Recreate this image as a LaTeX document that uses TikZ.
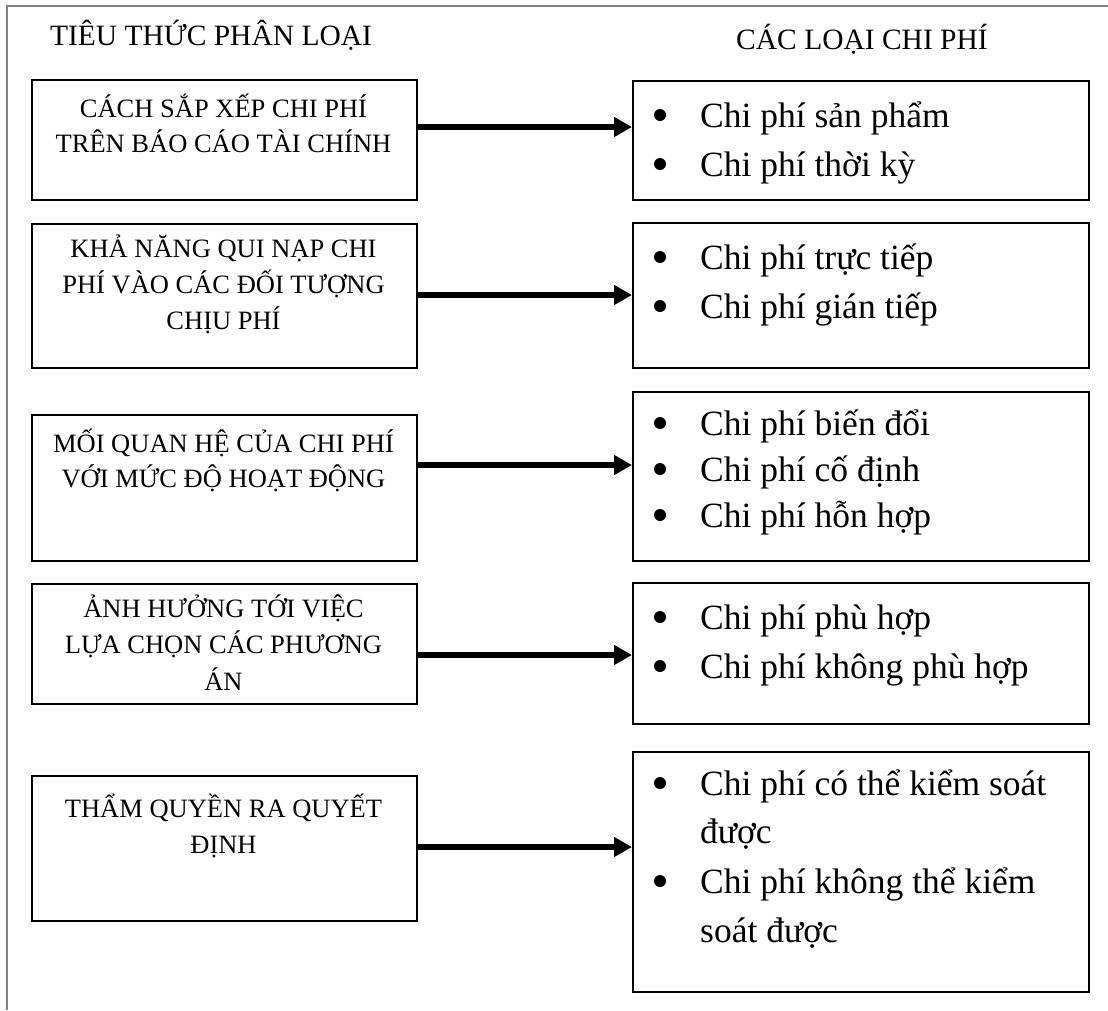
\documentclass[tikz,border=0pt]{standalone}
\usepackage{fontspec}
\setmainfont{Liberation Serif}
\usetikzlibrary{arrows.meta}
\begin{document}
\begin{tikzpicture}[x=1pt,y=-1pt,
  frame/.style={draw=black!50, line width=2pt},
  critbox/.style={draw, line width=2pt, anchor=north west, inner sep=0pt, minimum width=385pt},
  kindbox/.style={draw, line width=2pt, anchor=north west, inner sep=0pt, minimum width=456pt},
  head/.style={anchor=base, inner sep=0pt, font=\fontsize{29.5}{35}\selectfont},
  ctext/.style={anchor=base, inner sep=0pt, font=\fontsize{26.5}{32}\selectfont},
  dot/.style={circle, fill, inner sep=0pt, minimum size=12pt},
  itemtext/.style={anchor=base west, inner sep=0pt, font=\fontsize{35.5}{42}\selectfont},
  link/.style={line width=6pt, -{Triangle[length=18pt,width=19pt]}},
]
\useasboundingbox (0,0) rectangle (1108,1010);

% outer frame (top and left edges only)
\draw[frame] (7,1010) -- (7,6) -- (1108,6);

% column headings
\node[head] (hl) at (211,45) {TIÊU THỨC PHÂN LOẠI};
\node[head] (hr) at (862,49) {CÁC LOẠI CHI PHÍ};

% criteria boxes (left column)
\node[critbox, minimum height=120pt] (L1) at (31,79) {};
\node[critbox, minimum height=144pt] (L2) at (31,223) {};
\node[critbox, minimum height=146pt] (L3) at (31,414) {};
\node[critbox, minimum height=120pt] (L4) at (31,583) {};
\node[critbox, minimum height=145pt] (L5) at (31,775) {};

% cost-type boxes (right column)
\node[kindbox, minimum height=119pt] (R1) at (632,80) {};
\node[kindbox, minimum height=145pt] (R2) at (632,222) {};
\node[kindbox, minimum height=169pt] (R3) at (632,391) {};
\node[kindbox, minimum height=141pt] (R4) at (632,582) {};
\node[kindbox, minimum height=240pt] (R5) at (632,751) {};

% criteria texts
\node[ctext] (l1a) at (223.5,117) {CÁCH SẮP XẾP CHI PHÍ};
\node[ctext] (l1b) at (223.5,152) {TRÊN BÁO CÁO TÀI CHÍNH};
\node[ctext] (l2a) at (223.5,257) {KHẢ NĂNG QUI NẠP CHI};
\node[ctext] (l2b) at (223.5,293) {PHÍ VÀO CÁC ĐỐI TƯỢNG};
\node[ctext] (l2c) at (223.5,329) {CHỊU PHÍ};
\node[ctext] (l3a) at (223.5,452) {MỐI QUAN HỆ CỦA CHI PHÍ};
\node[ctext] (l3b) at (223.5,487) {VỚI MỨC ĐỘ HOẠT ĐỘNG};
\node[ctext] (l4a) at (223.5,617) {ẢNH HƯỞNG TỚI VIỆC};
\node[ctext] (l4b) at (223.5,653) {LỰA CHỌN CÁC PHƯƠNG};
\node[ctext] (l4c) at (223.5,690) {ÁN};
\node[ctext] (l5a) at (223.5,817) {THẨM QUYỀN RA QUYẾT};
\node[ctext] (l5b) at (223.5,853) {ĐỊNH};

% bulleted cost types
\node[dot] (d1a) at (660,115) {}; \node[itemtext] (r1a) at (700,127) {Chi phí sản phẩm};
\node[dot] (d1b) at (660,164) {}; \node[itemtext] (r1b) at (700,176) {Chi phí thời kỳ};

\node[dot] (d2a) at (660,257) {}; \node[itemtext] (r2a) at (700,269) {Chi phí trực tiếp};
\node[dot] (d2b) at (660,306) {}; \node[itemtext] (r2b) at (700,318) {Chi phí gián tiếp};

\node[dot] (d3a) at (660,423) {}; \node[itemtext] (r3a) at (700,435) {Chi phí biến đổi};
\node[dot] (d3b) at (660,469) {}; \node[itemtext] (r3b) at (700,481) {Chi phí cố định};
\node[dot] (d3c) at (660,515) {}; \node[itemtext] (r3c) at (700,527) {Chi phí hỗn hợp};

\node[dot] (d4a) at (660,617) {}; \node[itemtext] (r4a) at (700,629) {Chi phí phù hợp};
\node[dot] (d4b) at (660,666) {}; \node[itemtext] (r4b) at (700,678) {Chi phí không phù hợp};

\node[dot] (d5a) at (660,783) {}; \node[itemtext] (r5a) at (700,795) {Chi phí có thể kiểm soát};
\node[itemtext] (r5b) at (700,843) {được};
\node[dot] (d5c) at (660,881) {}; \node[itemtext] (r5c) at (700,893) {Chi phí không thể kiểm};
\node[itemtext] (r5d) at (700,942) {soát được};

% arrow heights
\coordinate (a1) at (0,127);
\coordinate (a2) at (0,295);
\coordinate (a3) at (0,465);
\coordinate (a4) at (0,655);
\coordinate (a5) at (0,847);

% connectors
\draw[link] (L1.east |- a1) -- (R1.west |- a1);
\draw[link] (L2.east |- a2) -- (R2.west |- a2);
\draw[link] (L3.east |- a3) -- (R3.west |- a3);
\draw[link] (L4.east |- a4) -- (R4.west |- a4);
\draw[link] (L5.east |- a5) -- (R5.west |- a5);
\end{tikzpicture}
\end{document}
